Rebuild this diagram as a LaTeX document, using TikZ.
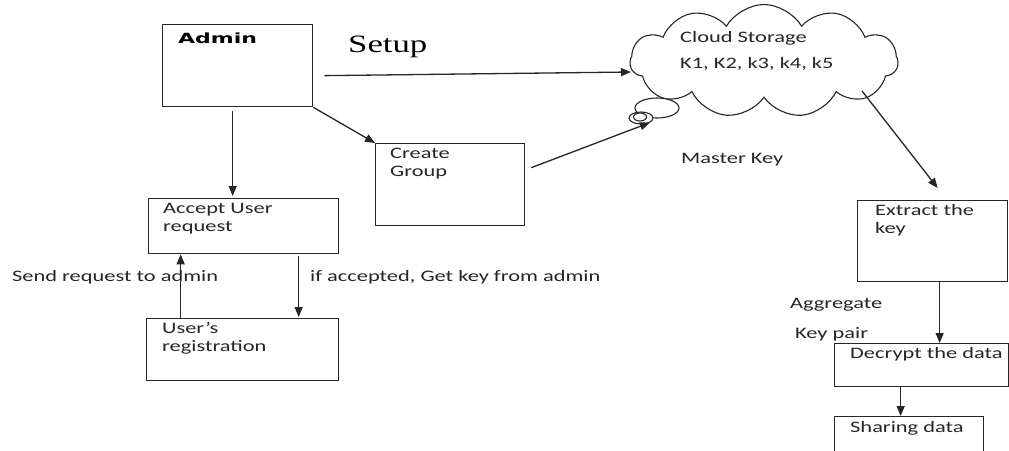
\documentclass[tikz,border=0pt]{standalone}
\usepackage{fontspec}
\setmainfont{Carlito}[FakeStretch=1.4]
\newfontfamily\adminfont{DejaVu Sans}[FakeStretch=1.57]
\newfontfamily\setupfont{Liberation Serif}[FakeStretch=1.39]
\usetikzlibrary{arrows.meta,shapes.symbols,shapes.geometric,calc}
\begin{document}
\begin{tikzpicture}[x=1pt,y=-1pt,
  box/.style={draw=black!85,line width=1.3pt,rectangle,anchor=north west,inner sep=0pt},
  txt/.style={anchor=base west,inner sep=0pt,font=\fontsize{16}{18}\selectfont,text=black!85},
  arr/.style={draw=black!85,line width=1.3pt,-{Triangle[length=10pt,width=8pt]}},
  puffst/.style={ellipse,draw=black!85,line width=1.1pt,fill=white,inner sep=0pt}]
\path[use as bounding box,clip] (0,0) rectangle (1009,450);
\fill[white] (0,0) rectangle (1009,450);

% boxes
\node[box,minimum width=150pt,minimum height=82pt] (admin) at (162,24) {};
\node[box,minimum width=149pt,minimum height=82pt] (group) at (375,143) {};
\node[box,minimum width=190pt,minimum height=55pt] (accept) at (148,198) {};
\node[box,minimum width=192pt,minimum height=62pt] (reg) at (146,318) {};
\node[box,minimum width=150pt,minimum height=81pt] (extract) at (857,200) {};
\node[box,minimum width=174pt,minimum height=43pt] (decrypt) at (834,343) {};
\node[box,minimum width=149pt,minimum height=60pt] (sharing) at (834,416) {};

% cloud
\node[cloud,draw=black!85,line width=1.1pt,cloud puffs=11,cloud puff arc=120,aspect=2.4,
      minimum width=268pt,minimum height=113pt,inner sep=0pt] (cloud) at (764,61) {};
\node[puffst,minimum width=44pt,minimum height=20pt] (puff) at (657,108) {};
\node[puffst,minimum width=24pt,minimum height=12pt] (bubble) at (641,118) {};
\node[puffst,minimum width=13pt,minimum height=8pt] (bubin) at (640,117) {};

% texts
\node[anchor=base west,inner sep=0pt,font=\adminfont\bfseries\fontsize{14}{16}\selectfont] (tadmin) at (178,43) {Admin};
\node[anchor=base west,inner sep=0pt,font=\setupfont\fontsize{25}{28}\selectfont] (tsetup) at (348,52) {Setup};
\node[txt] (tcs) at (680,42) {Cloud Storage};
\node[txt] (tks) at (680,68) {K1, K2, k3, k4, k5};
\node[txt] (tmk) at (681,163) {Master Key};
\node[txt] (tg1) at (390,158) {Create};
\node[txt] (tg2) at (390,176) {Group};
\node[txt] (ta1) at (163,213) {Accept User};
\node[txt] (ta2) at (163,231) {request};
\node[txt] (tr1) at (162,333) {User’s};
\node[txt] (tr2) at (162,351) {registration};
\node[txt] (tsend) at (12,281) {Send request to admin};
\node[txt] (tif) at (310,281) {if accepted, Get key from admin};
\node[txt] (te1) at (875,215) {Extract the};
\node[txt] (te2) at (875,233) {key};
\node[txt] (tagg) at (790,308) {Aggregate};
\node[txt] (tkp) at (795,338) {Key pair};
\node[txt] (tdec) at (850,358) {Decrypt the data};
\node[txt] (tsh) at (850,432) {Sharing data};

% connectors
\coordinate (cin) at (631,72);
\coordinate (cout) at ($(cloud.center)+(98,30)$);
\draw[arr] ($(admin.east)+(11,10)$) -- (cin);
\draw[arr] (admin.south east) -- (group.north west);
\draw[arr] ($(admin.south)+(-5,4)$) -- ($(accept.north)+(-11,-2)$);
\draw[arr] ($(group.east)+(6,-17)$) -- (bubble.south east);
\draw[arr] (cout) -- ($(extract.north)+(5,-12)$);
\draw[arr] ($(extract.south)+(7,0)$) -- ($(decrypt.north)+(18,0)$);
\draw[arr] ($(decrypt.south)+(-21,0)$) -- ($(sharing.north)+(-8.5,0)$);
\draw[arr] ($(reg.north)+(-62,0)$) -- ($(accept.south)+(-63,0)$);
\draw[arr] ($(accept.south)+(55,2)$) -- ($(reg.north)+(56,-1)$);
\end{tikzpicture}
\end{document}
